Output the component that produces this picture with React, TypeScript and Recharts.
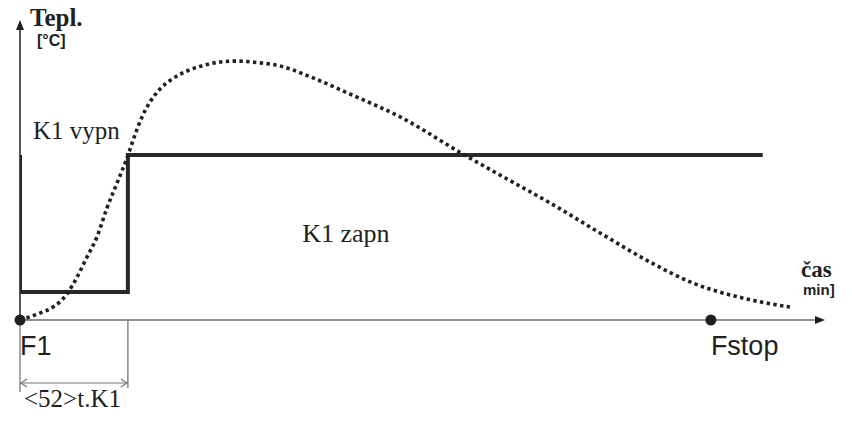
import { LineChart, Line, XAxis, YAxis, ReferenceLine, ReferenceDot } from "recharts";

// temperature curve (time in s, temperature in relative units)
const CURVE_TIME = [
  0, 9.6, 15.9, 22.7, 27.5, 32.3, 37.1, 41.9, 46.8, 52.1, 55.4, 58.8, 62.7,
  67.5, 73.3, 80.5, 89.2, 96.4, 103.6, 115.7, 125.3, 141.2, 159.1, 183.2, 213.5,
  231.4, 255.5, 279.6, 303.7, 324.4, 350.4, 371.1,
];
const CURVE_TEMP = [
  0, 2.3, 4.3, 8.7, 14.3, 21, 27.7, 37.3, 45.7, 55, 61.7, 67.7, 72.7, 77, 80.3,
  83, 85, 86, 86.3, 85.7, 84.7, 80.7, 75.3, 67.7, 55.3, 48.3, 39, 29, 19.3,
  12.3, 7, 4.3,
];

// K1 relay state: off (high) -> on (low) for t.K1 -> off
const SWITCH_TIME = [0, 0, 52, 52, 358];
const SWITCH_TEMP = [55, 9.3, 9.3, 55, 55];

const T_K1 = 52;
const F_STOP = 333;
const TIME_MAX = 388;
const TEMP_MIN = -33.67;
const TEMP_MAX = 100;

const curve = CURVE_TIME.map((t, i) => ({ t, v: CURVE_TEMP[i] }));
const relay = SWITCH_TIME.map((t, i) => ({ t, v: SWITCH_TEMP[i] }));

const INK = "#231f20";
const SERIF = "'Liberation Serif', 'Times New Roman', serif";
const SANS = "'Liberation Sans', Arial, sans-serif";

const textAt =
  (dx: number, dy: number, str: string, font: string, size: number, bold = false) =>
  (p: any) =>
    (
      <text
        x={p.cx + dx}
        y={p.cy + dy}
        fontFamily={font}
        fontSize={size}
        fontWeight={bold ? "bold" : "normal"}
        fill={INK}
      >
        {str}
      </text>
    );

const arrowLine = (color: string, width: number) => (p: any) => {
  const { x1, y1, x2, y2 } = p;
  const a = Math.atan2(y2 - y1, x2 - x1);
  const L = 10;
  const W = 4;
  const bx = x2 - L * Math.cos(a);
  const by = y2 - L * Math.sin(a);
  const nx = -Math.sin(a) * W;
  const ny = Math.cos(a) * W;
  return (
    <g>
      <line x1={x1} y1={y1} x2={bx} y2={by} stroke={color} strokeWidth={width} />
      <polygon points={`${x2},${y2} ${bx + nx},${by + ny} ${bx - nx},${by - ny}`} fill={INK} />
    </g>
  );
};

const dimArrow = (p: any) => {
  const { x1, y1, x2, y2 } = p;
  return (
    <g stroke="#777" strokeWidth={1.2} fill="none">
      <line x1={x1} y1={y1} x2={x2} y2={y2} />
      <polyline points={`${x1 + 7},${y1 - 4} ${x1 + 1},${y1} ${x1 + 7},${y1 + 4}`} />
      <polyline points={`${x2 - 7},${y2 - 4} ${x2 - 1},${y2} ${x2 - 7},${y2 + 4}`} />
    </g>
  );
};

const dot = (p: any) => <circle cx={p.cx} cy={p.cy} r={5.5} fill={INK} />;

export default function App() {
  return (
    <div style={{ position: "absolute", left: 0, top: 0, width: 852, height: 421, background: "#fff" }}>
      <LineChart width={852} height={421} margin={{ top: 20, right: 27, bottom: 0, left: 20 }}>
        <XAxis dataKey="t" type="number" domain={[0, TIME_MAX]} allowDataOverflow hide />
        <YAxis dataKey="v" type="number" domain={[TEMP_MIN, TEMP_MAX]} allowDataOverflow hide />

        {/* axes */}
        <ReferenceLine
          segment={[{ x: 0, y: 0 }, { x: TIME_MAX, y: 0 }]}
          ifOverflow="visible"
          shape={arrowLine("#6b6b6b", 1.5)}
        />
        <ReferenceLine
          segment={[{ x: 0, y: 0 }, { x: 0, y: TEMP_MAX }]}
          ifOverflow="visible"
          shape={arrowLine(INK, 1.5)}
        />

        {/* t.K1 dimension */}
        <ReferenceLine segment={[{ x: 0, y: 0 }, { x: 0, y: -24 }]} stroke="#888" strokeWidth={1.5} ifOverflow="visible" />
        <ReferenceLine segment={[{ x: T_K1, y: 0 }, { x: T_K1, y: -22.7 }]} stroke="#888" strokeWidth={1.5} ifOverflow="visible" />
        <ReferenceLine segment={[{ x: 0, y: -21 }, { x: T_K1, y: -21 }]} ifOverflow="visible" shape={dimArrow} />

        <Line
          data={relay}
          dataKey="v"
          type="linear"
          stroke="#2b2826"
          strokeWidth={4}
          dot={false}
          isAnimationActive={false}
        />
        <Line
          data={curve}
          dataKey="v"
          type="monotone"
          stroke={INK}
          strokeWidth={3.6}
          strokeDasharray="3.4 3.4"
          dot={false}
          isAnimationActive={false}
        />

        <ReferenceDot x={0} y={0} r={5} ifOverflow="visible" shape={dot} />
        <ReferenceDot x={F_STOP} y={0} r={5} ifOverflow="visible" shape={dot} />

        {/* labels */}
        <ReferenceDot x={0} y={TEMP_MAX} ifOverflow="visible" shape={textAt(10, 6, "Tepl.", SERIF, 25, true)} />
        <ReferenceDot x={0} y={TEMP_MAX} ifOverflow="visible" shape={textAt(17, 26, "[°C]", SANS, 16, true)} />
        <ReferenceDot x={0} y={55} ifOverflow="visible" shape={textAt(13, -16, "K1 vypn", SERIF, 25)} />
        <ReferenceDot x={136} y={26} ifOverflow="visible" shape={textAt(0, 0, "K1 zapn", SERIF, 26)} />
        <ReferenceDot x={TIME_MAX} y={0} ifOverflow="visible" shape={textAt(-24, -43, "čas", SERIF, 23, true)} />
        <ReferenceDot x={TIME_MAX} y={0} ifOverflow="visible" shape={textAt(-22, -25, "min]", SANS, 15, true)} />
        <ReferenceDot x={0} y={0} ifOverflow="visible" shape={textAt(0, 35, "F1", SANS, 27)} />
        <ReferenceDot x={F_STOP} y={0} ifOverflow="visible" shape={textAt(0, 35, "Fstop", SANS, 27)} />
        <ReferenceDot x={0} y={0} ifOverflow="visible" shape={textAt(4, 87, "<52>t.K1", SERIF, 25)} />
      </LineChart>
    </div>
  );
}
